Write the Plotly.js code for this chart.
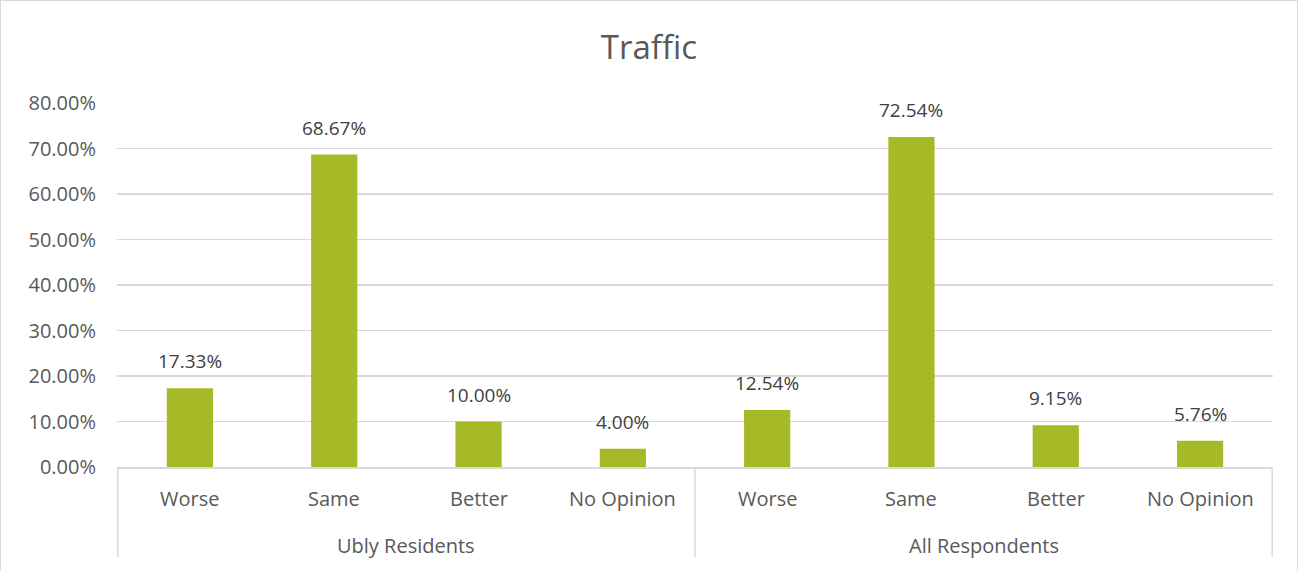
<!DOCTYPE html>
<html>
<head>
<meta charset="utf-8">
<script src="https://cdn.plot.ly/plotly-3.0.1.min.js"></script>
<style>
html,body{margin:0;padding:0;background:#fff;}
#chart{width:1296px;height:570px;border:1px solid #d9d9d9;border-bottom:none;}
</style>
</head>
<body>
<div id="chart"></div>
<script>
const groups = ["Ubly Residents","Ubly Residents","Ubly Residents","Ubly Residents",
                "All Respondents","All Respondents","All Respondents","All Respondents"];
const categories = ["Worse","Same","Better","No Opinion","Worse","Same","Better","No Opinion"];
const values = [17.33, 68.67, 10.00, 4.00, 12.54, 72.54, 9.15, 5.76];
const labels = values.map(v => v.toFixed(2) + "%");

const FONT = "Open Sans, sans-serif";
const trace = {
  type: "bar",
  x: [groups, categories],
  y: values.map(v => v / 100),
  marker: {color: "#A7B927"},
  hoverinfo: "skip"
};

const annotations = [];
// data labels
values.forEach((v, i) => {
  annotations.push({xref: "x", yref: "y", x: i, y: v / 100, text: labels[i],
    showarrow: false, yanchor: "bottom", yshift: 12,
    font: {family: FONT, size: 19, color: "#404040"}});
});
// category labels
categories.forEach((c, i) => {
  annotations.push({xref: "x", yref: "paper", x: i, y: 0, text: c,
    showarrow: false, yanchor: "middle", yshift: -31,
    font: {family: FONT, size: 20, color: "#595959"}});
});
// group labels
const uniqGroups = [...new Set(groups)];
uniqGroups.forEach(g => {
  const idx = groups.map((gg, i) => gg === g ? i : -1).filter(i => i >= 0);
  const mid = (idx[0] + idx[idx.length - 1]) / 2;
  annotations.push({xref: "x", yref: "paper", x: mid, y: 0, text: g,
    showarrow: false, yanchor: "middle", yshift: -78,
    font: {family: FONT, size: 20, color: "#595959"}});
});

// group dividers
const shapes = [];
const edges = [-0.5];
uniqGroups.forEach(g => {
  const last = groups.lastIndexOf(g);
  edges.push(last + 0.5);
});
edges.forEach(e => {
  shapes.push({type: "line", xref: "x", yref: "paper", x0: e, x1: e, y0: 0, y1: -0.247,
    line: {color: "#d9d9d9", width: 1.5}});
});

const layout = {
  width: 1296, height: 570,
  margin: {l: 116, r: 24, t: 102, b: 104},
  paper_bgcolor: "#ffffff",
  plot_bgcolor: "#ffffff",
  bargap: 0.68,
  showlegend: false,
  title: {text: "Traffic", x: 0.5, xanchor: "center", y: 0.965, yanchor: "top",
          pad: {t: 15},
          font: {family: FONT, size: 33, color: "#595959"}},
  xaxis: {
    type: "multicategory",
    showline: true, linecolor: "#d9d9d9", linewidth: 2,
    showdividers: false, showticklabels: false,
    ticks: "", showgrid: false
  },
  yaxis: {
    range: [0, 0.8], dtick: 0.1, tickformat: ".2%",
    showgrid: true, gridcolor: "#d9d9d9", gridwidth: 1.5,
    zeroline: false, showline: false, ticks: "",
    ticklabelstandoff: 20,
    tickfont: {family: FONT, size: 20, color: "#595959"}
  },
  annotations: annotations,
  shapes: shapes
};

Plotly.newPlot("chart", [trace], layout, {displayModeBar: false, staticPlot: true});
</script>
</body>
</html>
